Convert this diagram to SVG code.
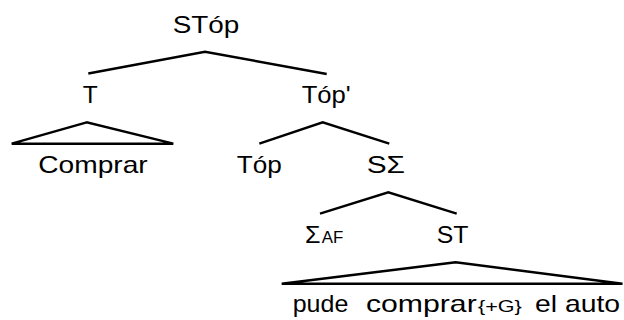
<svg xmlns="http://www.w3.org/2000/svg" width="624" height="320" viewBox="0 0 624 320">
<style>
text{font-family:"Liberation Sans",Arial,sans-serif;font-size:24px;fill:#000}
.sub{font-size:16px}
.c{fill:none;stroke:#000;stroke-width:2.4;stroke-linejoin:miter}
</style>
<rect width="624" height="320" fill="#fff"/>
<g id="connectors">
<polyline class="c" points="88.3,73.5 205,51.7 326.7,74"/>
<polygon class="c" points="86.7,122.3 11.7,143.7 173.3,143.7"/>
<polyline class="c" points="259.3,143.7 322.7,122.3 389.3,143.7"/>
<polyline class="c" points="320,213.7 388.3,192.3 456.7,213.7"/>
<polygon class="c" points="455.7,262.3 281.7,283.7 622.5,283.7"/>
</g>
<g id="n-STop"><text x="172.7" y="32.7" textLength="66.6" lengthAdjust="spacingAndGlyphs">STóp</text></g>
<g id="n-T"><text x="82.8" y="103" textLength="15" lengthAdjust="spacingAndGlyphs">T</text></g>
<g id="n-Topbar"><text x="301.7" y="102.5" textLength="49" lengthAdjust="spacingAndGlyphs">Tóp'</text></g>
<g id="n-Comprar"><text x="38.3" y="172.7" textLength="109.4" lengthAdjust="spacingAndGlyphs">Comprar</text></g>
<g id="n-Top"><text x="236.7" y="172.7" textLength="45" lengthAdjust="spacingAndGlyphs">Tóp</text></g>
<g id="n-SSigma"><text x="366.7" y="172.7" textLength="38.3" lengthAdjust="spacingAndGlyphs">SΣ</text></g>
<g id="n-SigmaAF"><text x="305" y="242.7" textLength="15.5" lengthAdjust="spacingAndGlyphs">Σ</text><text class="sub" x="321.7" y="242.7" textLength="21.6" lengthAdjust="spacingAndGlyphs">AF</text></g>
<g id="n-ST"><text x="436.7" y="242.7" textLength="31.7" lengthAdjust="spacingAndGlyphs">ST</text></g>
<g id="n-terminal">
<text x="292.7" y="311.5" textLength="55.6" lengthAdjust="spacingAndGlyphs">pude</text>
<text x="366" y="311.5" textLength="110.7" lengthAdjust="spacingAndGlyphs">comprar</text>
<text class="sub" x="478" y="311.5" textLength="43.7" lengthAdjust="spacingAndGlyphs">{+G}</text>
<text x="535" y="311.5" textLength="85" lengthAdjust="spacingAndGlyphs">el auto</text>
</g>
</svg>
